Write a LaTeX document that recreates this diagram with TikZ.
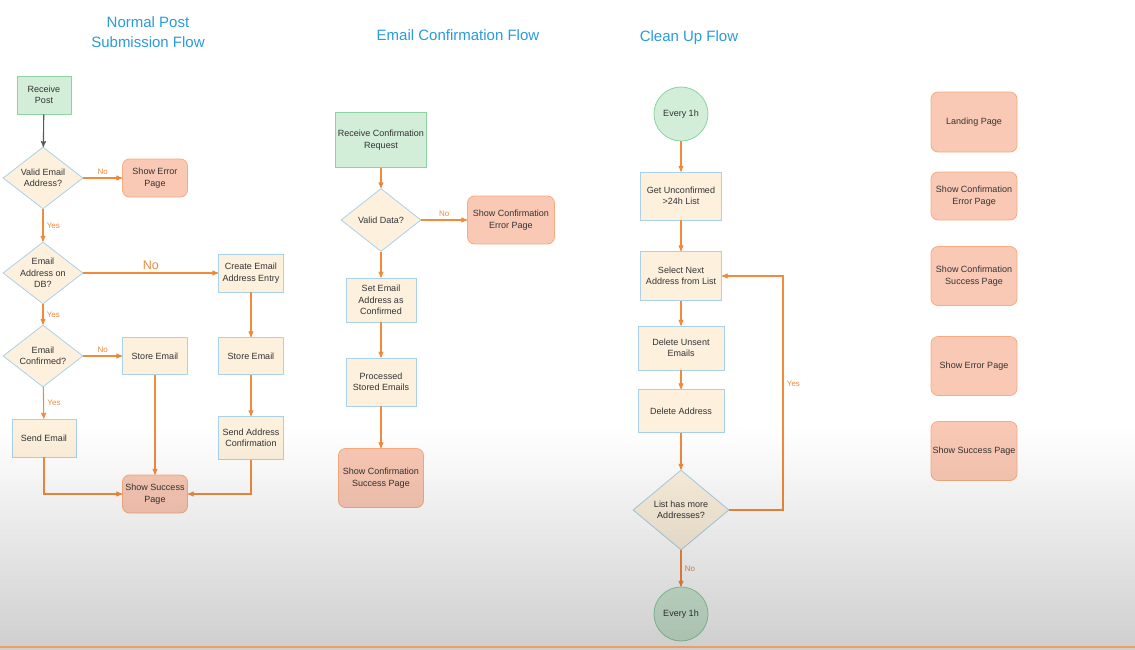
\documentclass[tikz,border=0pt]{standalone}
\usepackage{fontspec}
\setmainfont{Liberation Sans}
\usepackage{xcolor}
\usepackage{tikz}
\usetikzlibrary{positioning,arrows,shapes.geometric}

\definecolor{floworange}{HTML}{F28A3C}
\definecolor{boxblue}{HTML}{A9D1EA}
\definecolor{boxcream}{HTML}{FDF1DE}
\definecolor{startgreen}{HTML}{D2EDD8}
\definecolor{startline}{HTML}{8FD3A4}
\definecolor{pagefill}{HTML}{FAC9B5}
\definecolor{pageline}{HTML}{F5AC80}
\definecolor{titleblue}{HTML}{2A9BDE}
\definecolor{nodetext}{HTML}{333333}
\definecolor{barline}{HTML}{E8A064}

\begin{document}
\begin{tikzpicture}[x=1pt,y=-1pt,->,>=stealth',semithick,font=\fontsize{9}{11.5}\selectfont]
    \tikzstyle{every node}=[text=nodetext]
    \tikzstyle{procbox}=[rectangle,draw=boxblue,fill=boxcream,thick,align=center,inner sep=1pt]
    \tikzstyle{startbox}=[rectangle,draw=startline,fill=startgreen,thick,align=center,inner sep=1pt]
    \tikzstyle{pagebox}=[rectangle,rounded corners=7pt,draw=pageline,fill=pagefill,thick,align=center,inner sep=1pt]
    \tikzstyle{decision}=[diamond,draw=boxblue,fill=boxcream,thick,align=center,inner sep=-4pt]
    \tikzstyle{timer}=[circle,draw=startline,fill=startgreen,thick,minimum size=54pt]
    \tikzstyle{flowtitle}=[text=titleblue,font=\fontsize{15}{20}\selectfont,align=center]
    \tikzstyle{answer}=[text=floworange,font=\fontsize{8}{9}\selectfont]
    \tikzstyle{flow}=[draw=floworange,line width=1.1pt]

    \fill[white,-] (0,0) rectangle (1135,649);
    \useasboundingbox (0,0) rectangle (1135,649);

    % titles
    \node[flowtitle] (titlepost)  at (148,32) {Normal Post\\Submission Flow};
    \node[flowtitle] (titleconf)  at (458,35) {Email Confirmation Flow};
    \node[flowtitle] (titleclean) at (689,38) {Clean Up Flow};

    % normal post submission
    \node[startbox,minimum width=54pt,minimum height=38pt] (post)      at (44,95)   {Receive\\Post};
    \node[decision,minimum width=80pt,minimum height=62pt] (validmail) at (43,178)  {Valid Email\\Address?};
    \node[pagebox,minimum width=65pt,minimum height=38pt]  (errpage)   at (155,178) {Show Error\\Page};
    \node[decision,minimum width=80pt,minimum height=62pt] (ondb)      at (43,273)  {Email\\Address on\\DB?};
    \node[procbox,minimum width=65pt,minimum height=38pt]  (newentry)  at (251,273) {Create Email\\Address Entry};
    \node[decision,minimum width=80pt,minimum height=62pt] (confirmed) at (43,356)  {Email\\Confirmed?};
    \node[procbox,minimum width=65pt,minimum height=37pt]  (storeone)  at (155,356) {Store Email};
    \node[procbox,minimum width=65pt,minimum height=37pt]  (storetwo)  at (251,356) {Store Email};
    \node[procbox,minimum width=64pt,minimum height=38pt]  (sendmail)  at (44,438)  {Send Email};
    \node[procbox,minimum width=65pt,minimum height=43pt]  (sendconf)  at (251,438) {Send Address\\Confirmation};
    \node[pagebox,minimum width=65pt,minimum height=38pt]  (okpage)    at (155,494) {Show Success\\Page};

    % email confirmation
    \node[startbox,minimum width=91pt,minimum height=55pt] (confreq)   at (381,140) {Receive Confirmation\\Request};
    \node[decision,minimum width=80pt,minimum height=63pt] (validdata) at (381,220) {Valid Data?};
    \node[pagebox,minimum width=87pt,minimum height=48pt]  (conferr)   at (511,220) {Show Confirmation\\Error Page};
    \node[procbox,minimum width=70pt,minimum height=44pt]  (setconf)   at (381,300) {Set Email\\Address as\\Confirmed};
    \node[procbox,minimum width=70pt,minimum height=48pt]  (processed) at (381,382) {Processed\\Stored Emails};
    \node[pagebox,minimum width=85pt,minimum height=59pt]  (confok)    at (381,478) {Show Confirmation\\Success Page};

    % clean up
    \node[timer]                                           (tick)      at (681,114) {Every 1h};
    \node[procbox,minimum width=81pt,minimum height=48pt]  (unconf)    at (681,196) {Get Unconfirmed\\>24h List};
    \node[procbox,minimum width=81pt,minimum height=49pt]  (nextaddr)  at (681,276) {Select Next\\Address from List};
    \node[procbox,minimum width=86pt,minimum height=44pt]  (delunsent) at (681,348) {Delete Unsent\\Emails};
    \node[procbox,minimum width=86pt,minimum height=43pt]  (deladdr)   at (681,411) {Delete Address};
    \node[decision,minimum width=96pt,minimum height=80pt] (more)      at (681,510) {List has more\\Addresses?};
    \node[timer]                                           (tock)      at (681,614) {Every 1h};
    \coordinate (loopcorner) at (783,510);

    % pages
    \node[pagebox,minimum width=86pt,minimum height=60pt]  (landing)    at (974,122) {Landing Page};
    \node[pagebox,minimum width=86pt,minimum height=48pt]  (legconferr) at (974,196) {Show Confirmation\\Error Page};
    \node[pagebox,minimum width=86pt,minimum height=59pt]  (legconfok)  at (974,276) {Show Confirmation\\Success Page};
    \node[pagebox,minimum width=86pt,minimum height=59pt]  (legerr)     at (974,366) {Show Error Page};
    \node[pagebox,minimum width=86pt,minimum height=59pt]  (legok)      at (974,451) {Show Success Page};

\path[flow]
(post)      edge[draw=black!65]                               (validmail)
(validmail) edge node[answer,above]{No}                       (errpage)
            edge node[answer,right]{Yes}                      (ondb)
(ondb)      edge node[answer,above,font=\fontsize{12.5}{14}\selectfont]{No} (newentry)
            edge node[answer,right]{Yes}                      (confirmed)
(confirmed) edge node[answer,above]{No}                       (storeone)
            edge node[answer,right]{Yes}                      (sendmail)
(newentry)  edge                                              (storetwo)
(storetwo)  edge                                              (sendconf)
(storeone)  edge                                              (okpage)
(confreq)   edge                                              (validdata)
(validdata) edge node[answer,above]{No}                       (conferr)
            edge                                              (setconf)
(setconf)   edge                                              (processed)
(processed) edge                                              (confok)
(tick)      edge                                              (unconf)
(unconf)    edge                                              (nextaddr)
(nextaddr)  edge                                              (delunsent)
(delunsent) edge                                              (deladdr)
(deladdr)   edge                                              (more)
(more)      edge node[answer,right]{No}                       (tock);
    \draw[flow] (sendmail) |- (okpage);
    \draw[flow] (sendconf) |- (okpage);
    \draw[flow] (more) -- (loopcorner) |- node[answer,right,pos=0.27]{Yes} (nextaddr);

    % screen shading
    \foreach \k in {0,...,43}
        \pgfmathsetmacro\shade{0.19*(\k+0.5)/44}
        \fill[black,fill opacity=\shade,-] (0,430+5*\k) rectangle (1135,435+5*\k);
    \draw[barline,line width=1.6pt,-] (0,647.2) -- (1135,647.2);
  \end{tikzpicture}
\end{document}
